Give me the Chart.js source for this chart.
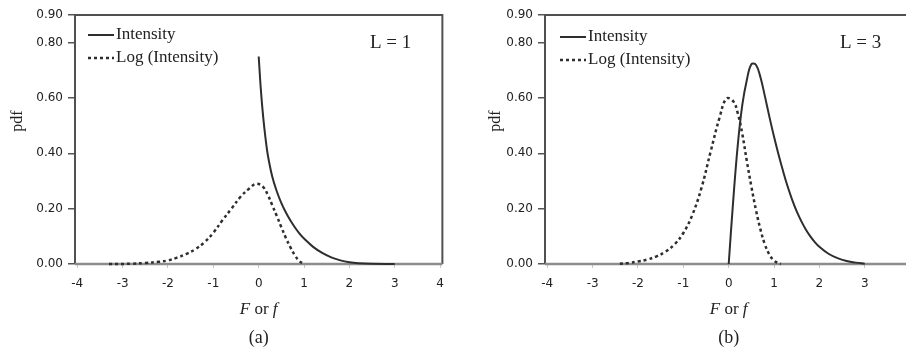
<!DOCTYPE html>
<html>
<head>
<meta charset="utf-8">
<script src="https://cdn.jsdelivr.net/npm/chart.js@4.4.0/dist/chart.umd.min.js"></script>
<style>
  body { margin: 0; background: #fff; width: 906px; height: 350px; overflow: hidden; position: relative; }
  canvas { position: absolute; top: 0; }
  #panelA { left: 0; }
  #panelB { left: 453px; }
</style>
</head>
<body>
<canvas id="panelA" width="453" height="350"></canvas>
<canvas id="panelB" width="470" height="350"></canvas>
<script>
// L = 1
const intensityX1 = [0, 0.05, 0.1, 0.15, 0.2, 0.3, 0.4, 0.5, 0.6, 0.7, 0.8, 0.9, 1.0, 1.2, 1.4, 1.6, 1.8, 2.0, 2.2, 2.5, 3.0];
const intensityY1 = [0.75, 0.625, 0.53, 0.455, 0.395, 0.315, 0.262, 0.22, 0.186, 0.157, 0.132, 0.11, 0.092, 0.062, 0.04, 0.024, 0.013, 0.006, 0.0025, 0.0005, 0];
const logX1 = [-3.3, -2.8, -2.5, -2.2, -2.0, -1.8, -1.6, -1.4, -1.2, -1.0, -0.8, -0.6, -0.4, -0.2, -0.05, 0.1, 0.2, 0.3, 0.4, 0.5, 0.6, 0.7, 0.8, 0.9, 1.0];
const logY1 = [0, 0.001, 0.004, 0.008, 0.013, 0.023, 0.036, 0.053, 0.078, 0.113, 0.158, 0.20, 0.243, 0.274, 0.29, 0.278, 0.25, 0.212, 0.173, 0.133, 0.094, 0.06, 0.031, 0.01, 0];

// L = 3
const intensityX3 = [0, 0.1, 0.2, 0.3, 0.4, 0.5, 0.6, 0.7, 0.8, 0.9, 1.0, 1.1, 1.2, 1.3, 1.4, 1.5, 1.6, 1.7, 1.8, 1.9, 2.0, 2.2, 2.4, 2.6, 2.8, 3.0];
const intensityY3 = [0, 0.23, 0.43, 0.575, 0.665, 0.722, 0.72, 0.675, 0.605, 0.53, 0.46, 0.395, 0.335, 0.28, 0.232, 0.19, 0.155, 0.125, 0.1, 0.079, 0.062, 0.037, 0.021, 0.011, 0.005, 0.001];
const logX3 = [-2.4, -2.2, -2.0, -1.8, -1.6, -1.4, -1.2, -1.0, -0.8, -0.6, -0.4, -0.2, -0.05, 0.1, 0.2, 0.3, 0.4, 0.5, 0.6, 0.7, 0.8, 0.9, 1.0, 1.1, 1.15];
const logY3 = [0.001, 0.004, 0.009, 0.016, 0.027, 0.044, 0.07, 0.112, 0.178, 0.275, 0.405, 0.53, 0.598, 0.588, 0.545, 0.47, 0.372, 0.28, 0.196, 0.125, 0.07, 0.033, 0.012, 0.003, 0];

const xTicks = [-4, -3, -2, -1, 0, 1, 2, 3, 4];
const yTicks = [0, 0.2, 0.4, 0.6, 0.8, 0.9];
const seriesNames = ['Intensity', 'Log (Intensity)'];

const ink = '#2e2e2e';
const serif = '"Liberation Serif", "Times New Roman", serif';

function toPoints(xs, ys) {
  return xs.map((x, i) => ({ x: x, y: ys[i] }));
}

// box around the plot: dark on three sides, grey along the x axis
const framePlugin = {
  id: 'frame',
  beforeDatasetsDraw(chart) {
    const { ctx, chartArea: a } = chart;
    ctx.save();
    ctx.strokeStyle = '#505050';
    ctx.lineWidth = 2;
    ctx.beginPath();
    ctx.moveTo(a.left, a.bottom);
    ctx.lineTo(a.left, a.top);
    ctx.lineTo(a.right, a.top);
    ctx.lineTo(a.right, a.bottom);
    ctx.stroke();
    ctx.strokeStyle = '#8c8c8c';
    ctx.lineWidth = 2.5;
    ctx.beginPath();
    ctx.moveTo(a.left, a.bottom);
    ctx.lineTo(a.right, a.bottom);
    ctx.stroke();
    ctx.restore();
  }
};

// legend, axis titles and panel labels
const panelText = {
  id: 'panelText',
  afterDraw(chart, args, opts) {
    const { ctx, chartArea: a } = chart;
    const cx = (a.left + a.right) / 2;
    ctx.save();
    ctx.fillStyle = '#222';
    ctx.textBaseline = 'middle';

    // legend inside the plot
    chart.data.datasets.forEach((ds, i) => {
      const y = a.top + opts.legendTop + i * 23;
      ctx.save();
      ctx.strokeStyle = ds.borderColor;
      ctx.lineWidth = ds.borderWidth;
      ctx.setLineDash(ds.borderDash || []);
      ctx.beginPath();
      ctx.moveTo(a.left + opts.legendLeft, y);
      ctx.lineTo(a.left + opts.legendLeft + 26, y);
      ctx.stroke();
      ctx.restore();
      ctx.font = '17px ' + serif;
      ctx.textAlign = 'left';
      ctx.fillText(ds.label, a.left + opts.legendLeft + 28, y);
    });

    ctx.font = '19px ' + serif;
    ctx.textAlign = 'left';
    ctx.fillText(opts.level, a.left + 295, 43);

    // y title
    ctx.save();
    ctx.translate(opts.pdfX, 121);
    ctx.rotate(-Math.PI / 2);
    ctx.textAlign = 'center';
    ctx.font = '16px ' + serif;
    ctx.fillText('pdf', 0, 0);
    ctx.restore();

    // x title with italic symbols
    const parts = [['F', 'italic '], [' or ', ''], ['f', 'italic ']];
    let total = 0;
    parts.forEach(p => { ctx.font = p[1] + '17px ' + serif; total += ctx.measureText(p[0]).width; });
    let x = cx - total / 2;
    ctx.textAlign = 'left';
    parts.forEach(p => {
      ctx.font = p[1] + '17px ' + serif;
      ctx.fillText(p[0], x, 310);
      x += ctx.measureText(p[0]).width;
    });

    ctx.font = '18px ' + serif;
    ctx.textAlign = 'center';
    ctx.fillText(opts.tag, cx, 338);
    ctx.restore();
  }
};

function makePanel(id, intensity, logIntensity, yWidth, text) {
  return new Chart(document.getElementById(id), {
    type: 'line',
    data: {
      datasets: [
        {
          label: seriesNames[0],
          data: intensity,
          borderColor: ink,
          borderWidth: 2,
          pointRadius: 0,
          tension: 0.4,
          clip: 6
        },
        {
          label: seriesNames[1],
          data: logIntensity,
          borderColor: ink,
          borderWidth: 2.5,
          borderDash: [3, 3],
          pointRadius: 0,
          tension: 0.4,
          clip: 6
        }
      ]
    },
    options: {
      responsive: false,
      animation: false,
      layout: { padding: { top: 15, right: 10, bottom: 0, left: 0 } },
      plugins: {
        legend: { display: false },
        tooltip: { enabled: false },
        panelText: text
      },
      scales: {
        x: {
          type: 'linear',
          min: -4.05,
          max: 4.05,
          afterBuildTicks: s => { s.ticks = xTicks.map(v => ({ value: v })); },
          afterFit: s => { s.height = 86; },
          border: { display: false },
          grid: { drawOnChartArea: false, tickLength: 4, color: '#c8c8c8', lineWidth: 1 },
          ticks: {
            padding: 9,
            color: '#222',
            font: { family: '"DejaVu Sans", sans-serif', size: 12 },
            callback: v => String(v)
          }
        },
        y: {
          type: 'linear',
          min: 0,
          max: 0.9,
          afterBuildTicks: s => { s.ticks = yTicks.map(v => ({ value: v })); },
          afterFit: s => { s.width = yWidth; },
          border: { display: false },
          grid: { drawOnChartArea: false, tickLength: 7, color: '#555', lineWidth: 1.5 },
          ticks: {
            padding: 5,
            color: '#222',
            font: { family: '"DejaVu Sans", sans-serif', size: 12 },
            callback: v => v.toFixed(2)
          }
        }
      }
    },
    plugins: [framePlugin, panelText]
  });
}

makePanel('panelA', toPoints(intensityX1, intensityY1), toPoints(logX1, logY1), 75,
  { tag: '(a)', level: 'L = 1', pdfX: 18, legendLeft: 13, legendTop: 20 });
makePanel('panelB', toPoints(intensityX3, intensityY3), toPoints(logX3, logY3), 92,
  { tag: '(b)', level: 'L = 3', pdfX: 43, legendLeft: 15, legendTop: 22 });
</script>
</body>
</html>
